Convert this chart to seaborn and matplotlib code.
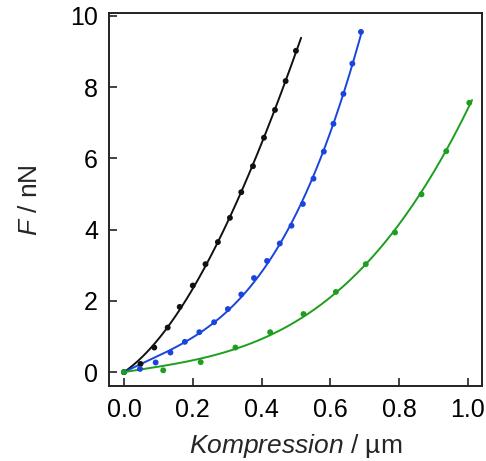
import numpy as np
import pandas as pd
import matplotlib
matplotlib.use("Agg")
import matplotlib.pyplot as plt
import seaborn as sns

# Measured force-compression data for three samples
x_black = [0.0, 0.048, 0.088, 0.127, 0.162, 0.200, 0.237, 0.273, 0.308,
           0.341, 0.375, 0.407, 0.439, 0.470, 0.500]
y_black = [0.0, 0.23, 0.69, 1.25, 1.83, 2.43, 3.03, 3.65, 4.33,
           5.05, 5.78, 6.58, 7.36, 8.17, 9.02]

x_blue = [0.0, 0.0465, 0.092, 0.135, 0.177, 0.219, 0.262, 0.302, 0.341,
          0.378, 0.416, 0.453, 0.487, 0.520, 0.551, 0.581, 0.609, 0.638,
          0.664, 0.689]
y_blue = [0.0, 0.09, 0.27, 0.55, 0.85, 1.12, 1.40, 1.77, 2.18,
          2.64, 3.12, 3.61, 4.11, 4.72, 5.43, 6.19, 6.97, 7.81,
          8.66, 9.55]

x_green = [0.0, 0.114, 0.223, 0.324, 0.425, 0.522, 0.616, 0.703, 0.788,
           0.865, 0.937, 1.004]
y_green = [0.0, 0.05, 0.28, 0.69, 1.12, 1.63, 2.25, 3.03, 3.92,
           4.99, 6.20, 7.56]

# upper end of each fitted curve
fit_end = {"black": 0.515, "blue": 0.689, "green": 1.012}

colors = {"black": "#111111", "blue": "#1a45dd", "green": "#1e9e1e"}

x_ticks = [0.0, 0.2, 0.4, 0.6, 0.8, 1.0]
y_ticks = [0, 2, 4, 6, 8, 10]

sns.set_style("ticks")
plt.rcParams["font.family"] = ["Liberation Sans", "DejaVu Sans"]
plt.rcParams["mathtext.fontset"] = "custom"
plt.rcParams["mathtext.it"] = "Liberation Sans:italic"

fig = plt.figure(figsize=(4.86, 4.61), dpi=100)
ax = fig.add_axes([0.2243, 0.1627, 0.7675, 0.8083])


def fit_curve(xs, ys, x_end):
    """Least-squares cubic through the origin."""
    xs = np.asarray(xs)
    ys = np.asarray(ys)
    A = np.column_stack([xs, xs ** 2, xs ** 3])
    coef, *_ = np.linalg.lstsq(A, ys, rcond=None)
    xf = np.linspace(0, x_end, 200)
    yf = coef[0] * xf + coef[1] * xf ** 2 + coef[2] * xf ** 3
    return xf, yf


series = [("black", x_black, y_black), ("blue", x_blue, y_blue),
          ("green", x_green, y_green)]

for name, xs, ys in series:
    xf, yf = fit_curve(xs, ys, fit_end[name])
    sns.lineplot(x=xf, y=yf, ax=ax, color=colors[name], linewidth=1.4,
                 sort=False, zorder=2)
    sns.scatterplot(x=xs, y=ys, ax=ax, color=colors[name], s=18,
                    edgecolor="none", zorder=3)

ax.set_xlim(-0.0436, 1.041)
ax.set_ylim(-0.39, 10.07)
ax.set_xticks(x_ticks)
ax.set_xticklabels([f"{t:.1f}" for t in x_ticks])
ax.set_yticks(y_ticks)
ax.set_yticklabels([str(t) for t in y_ticks])

for side in ["top", "right", "left", "bottom"]:
    ax.spines[side].set_visible(True)
    ax.spines[side].set_linewidth(1.4)
    ax.spines[side].set_color("#222222")

ax.tick_params(direction="in", length=6, width=1.2, labelsize=18,
               colors="#222222", labelcolor="black")
ax.tick_params(axis="x", pad=9)
ax.tick_params(axis="y", pad=8)

ax.set_xlabel(r"$\it{Kompression}$ / µm", fontsize=19, labelpad=7)
ax.set_ylabel(r"$\it{F}$ / nN", fontsize=19, labelpad=20)

fig.savefig("out.png", dpi=100)
